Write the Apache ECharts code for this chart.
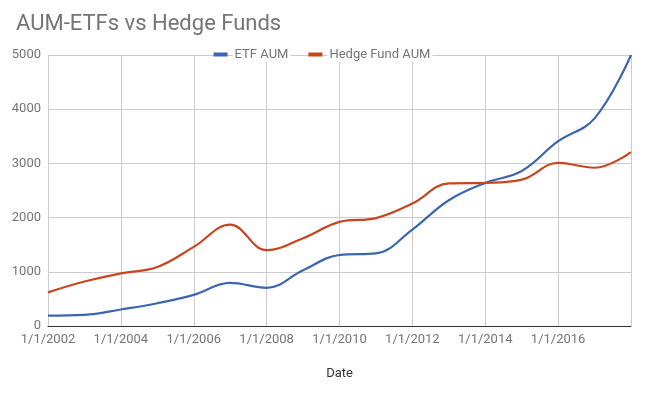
<!DOCTYPE html>
<html>
<head>
<meta charset="utf-8">
<script src="https://cdn.jsdelivr.net/npm/echarts@6/dist/echarts.min.js"></script>
<style>
html,body{margin:0;padding:0;background:#fff;}
#chart{width:646px;height:396px;}
</style>
</head>
<body>
<div id="chart"></div>
<script>
const categories = ['1/1/2002','1/1/2003','1/1/2004','1/1/2005','1/1/2006','1/1/2007','1/1/2008','1/1/2009','1/1/2010','1/1/2011','1/1/2012','1/1/2013','1/1/2014','1/1/2015','1/1/2016','1/1/2017','1/1/2018'];
const etfAum = [190, 205, 305, 420, 575, 795, 705, 1030, 1310, 1340, 1780, 2320, 2640, 2860, 3410, 3830, 5000];
const hedgeFundAum = [620, 820, 970, 1090, 1460, 1870, 1400, 1620, 1920, 1990, 2260, 2630, 2640, 2700, 3010, 2920, 3210];
const yTicks = [0, 1000, 2000, 3000, 4000, 5000];

const chart = echarts.init(document.getElementById('chart'), null, {renderer: 'canvas'});
const font = 'Roboto';
chart.setOption({
  animation: false,
  backgroundColor: '#ffffff',
  title: {
    text: 'AUM-ETFs vs Hedge Funds',
    left: 11, top: 8,
    textStyle: {fontFamily: font, fontSize: 22, fontWeight: 'normal', color: '#757575'}
  },
  legend: {
    top: 47, left: 'center',
    itemWidth: 14, itemHeight: 4, itemGap: 18,
    icon: 'rect',
    padding: [0, 4],
    textStyle: {fontFamily: font, fontSize: 13, color: '#757575', backgroundColor: '#fff', padding: [1, 2]},
    data: ['ETF AUM', 'Hedge Fund AUM']
  },
  grid: {left: 48, right: 15, top: 55, bottom: 70, containLabel: false},
  xAxis: {
    type: 'category',
    data: categories,
    boundaryGap: false,
    name: 'Date',
    nameLocation: 'middle',
    nameGap: 41,
    nameTextStyle: {fontFamily: font, fontSize: 13, color: '#333'},
    axisLine: {show: true, lineStyle: {color: '#333', width: 1}},
    axisTick: {show: false},
    axisLabel: {
      interval: 1, margin: 7,
      fontFamily: font, fontSize: 13, color: '#757575',
      formatter: function (v, i) { return i === categories.length - 1 ? '' : v; }
    },
    splitLine: {show: true, interval: 1, lineStyle: {color: '#cccccc', width: 1}}
  },
  yAxis: {
    type: 'value',
    min: yTicks[0], max: yTicks[yTicks.length - 1], interval: 1000,
    axisLine: {show: false},
    axisTick: {show: false},
    axisLabel: {fontFamily: font, fontSize: 13, color: '#757575', margin: 7,
      formatter: function (v) { return String(v); }},
    splitLine: {lineStyle: {color: '#cccccc', width: 1}}
  },
  series: [
    {
      name: 'ETF AUM', type: 'line', data: etfAum, smooth: 0.4,
      showSymbol: false, symbol: 'none',
      lineStyle: {color: '#3c66b1', width: 2.2},
      itemStyle: {color: '#3c66b1'}
    },
    {
      name: 'Hedge Fund AUM', type: 'line', data: hedgeFundAum, smooth: 0.4,
      showSymbol: false, symbol: 'none',
      lineStyle: {color: '#c8461f', width: 2.2},
      itemStyle: {color: '#c8461f'}
    }
  ]
});
</script>
</body>
</html>
